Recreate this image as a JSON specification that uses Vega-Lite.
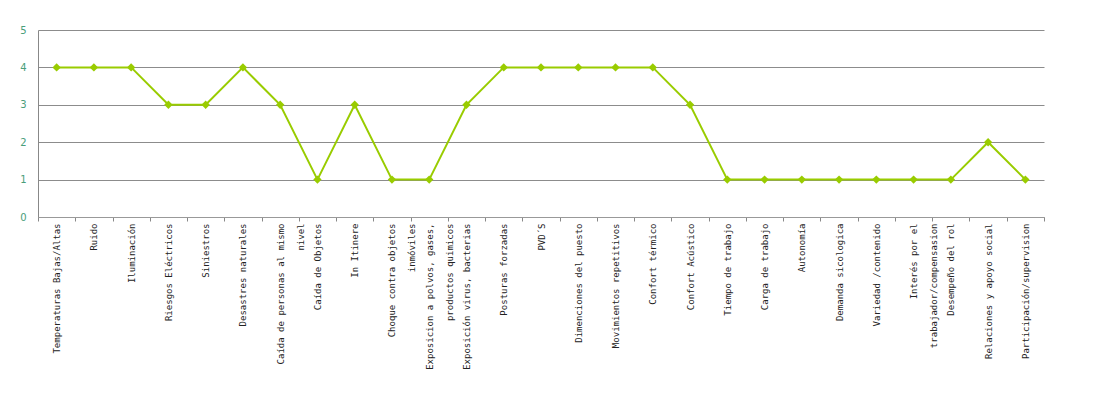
{
  "$schema": "https://vega.github.io/schema/vega-lite/v6.json",
  "width": 1006,
  "height": 187,
  "autosize": {"type": "none"},
  "padding": {"left": 38, "top": 30, "right": 63, "bottom": 185},
  "background": "white",
  "config": {"view": {"stroke": null}},
  "data": {
    "values": [
      {"riesgo": "Temperaturas Bajas/Altas", "valor": 4},
      {"riesgo": "Ruido", "valor": 4},
      {"riesgo": "Iluminación", "valor": 4},
      {"riesgo": "Riesgos Eléctricos", "valor": 3},
      {"riesgo": "Siniestros", "valor": 3},
      {"riesgo": "Desastres naturales", "valor": 4},
      {"riesgo": "Caída de personas al mismo|nivel", "valor": 3},
      {"riesgo": "Caída de Objetos", "valor": 1},
      {"riesgo": "In Itinere", "valor": 3},
      {"riesgo": "Choque contra objetos|inmóviles", "valor": 1},
      {"riesgo": "Exposicion a polvos, gases,|productos quimicos", "valor": 1},
      {"riesgo": "Exposición virus, bacterias", "valor": 3},
      {"riesgo": "Posturas forzadas", "valor": 4},
      {"riesgo": "PVD´S", "valor": 4},
      {"riesgo": "Dimenciones del puesto", "valor": 4},
      {"riesgo": "Movimientos repetitivos", "valor": 4},
      {"riesgo": "Confort térmico", "valor": 4},
      {"riesgo": "Confort Acústico", "valor": 3},
      {"riesgo": "Tiempo de trabajo", "valor": 1},
      {"riesgo": "Carga de trabajo", "valor": 1},
      {"riesgo": "Autonomía", "valor": 1},
      {"riesgo": "Demanda sicologica", "valor": 1},
      {"riesgo": "Variedad /contenido", "valor": 1},
      {"riesgo": "Interés por el|trabajador/compensasion", "valor": 1},
      {"riesgo": "Desempeño del rol", "valor": 1},
      {"riesgo": "Relaciones y apoyo social", "valor": 2},
      {"riesgo": "Participación/supervision", "valor": 1}
    ]
  },
  "encoding": {
    "x": {
      "field": "riesgo",
      "type": "nominal",
      "sort": null,
      "scale": {"paddingInner": 0, "paddingOuter": 0},
      "axis": {
        "title": null,
        "labelAngle": -90,
        "labelAlign": "right",
        "labelBaseline": "middle",
        "labelExpr": "split(datum.label, '|')",
        "labelLineHeight": 20,
        "labelFont": "DejaVu Sans Mono",
        "labelFontSize": 9,
        "labelColor": "#222222",
        "labelPadding": 2,
        "labelLimit": 300,
        "labelOverlap": false,
        "tickBand": "extent",
        "tickSize": 4,
        "tickColor": "#888888",
        "domainColor": "#999999",
        "grid": false
      }
    },
    "y": {
      "field": "valor",
      "type": "quantitative",
      "scale": {"domain": [0, 5], "nice": false},
      "axis": {
        "title": null,
        "values": [0, 1, 2, 3, 4, 5],
        "ticks": false,
        "labelOverlap": false,
        "labelPadding": 12,
        "labelColor": "#4a9e7a",
        "labelFont": "DejaVu Sans",
        "labelFontSize": 10,
        "domainColor": "#888888",
        "grid": true,
        "gridColor": "#8c8c8c",
        "gridWidth": 1
      }
    }
  },
  "layer": [
    {
      "mark": {"type": "line", "color": "#99cc00", "strokeWidth": 2}
    },
    {
      "mark": {"type": "point", "shape": "diamond", "filled": true, "size": 70, "color": "#99cc00", "opacity": 1}
    }
  ]
}
